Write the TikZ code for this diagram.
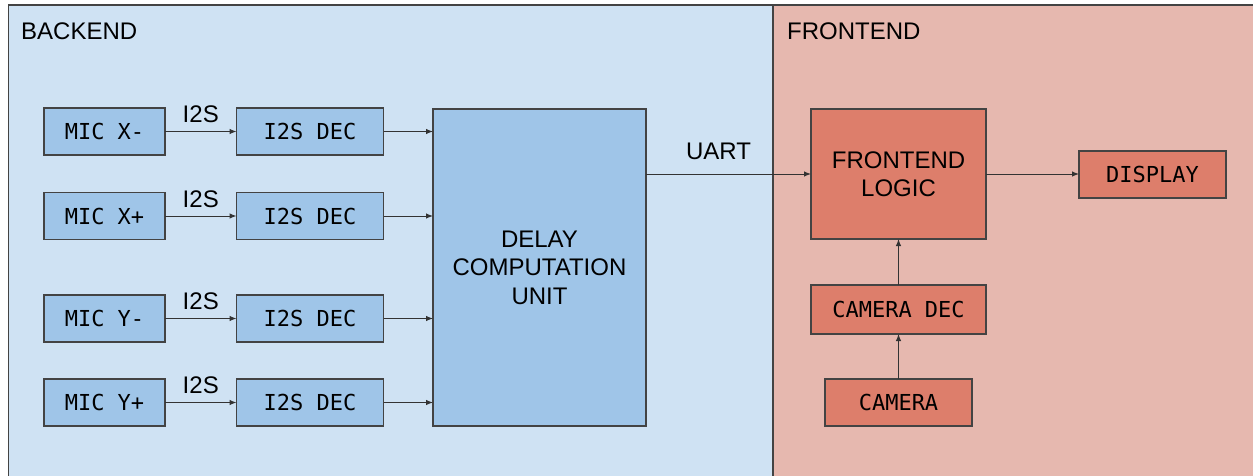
\documentclass[tikz,border=0pt]{standalone}
\usepackage{fontspec}
\setmainfont{Liberation Sans}
\newfontfamily\boxmono{DejaVu Sans Mono}
\usetikzlibrary{arrows.meta}

\definecolor{bepanel}{HTML}{CFE2F3}
\definecolor{bebox}{HTML}{9FC5E8}
\definecolor{fepanel}{HTML}{E6B8AF}
\definecolor{febox}{HTML}{DD7E6B}
\definecolor{edge}{HTML}{434343}
\definecolor{wire}{HTML}{333333}

\tikzset{
  panel/.style={draw=edge, line width=1.4pt},
  blk/.style={draw=edge, line width=1.2pt, inner sep=0pt, outer sep=0pt,
    font=\boxmono\fontsize{22}{26}\selectfont, align=center},
  beblk/.style={blk, fill=bebox},
  feblk/.style={blk, fill=febox},
  bigtext/.style={font=\fontsize{24}{28.5}\selectfont, align=center},
  wirearrow/.style={draw=wire, line width=1pt, -{Latex[length=7pt,width=5.5pt]}},
  lbl/.style={font=\fontsize{24}{28}\selectfont, inner sep=0pt},
  title/.style={font=\fontsize{24}{28}\selectfont, inner sep=0pt, anchor=base west}
}

\begin{document}
\begin{tikzpicture}[x=1pt, y=-1pt]
  \useasboundingbox (0,0) rectangle (1253,475);

  % panels
  \fill[white] (0,0) rectangle (1253,475);
  \draw[panel, fill=bepanel] (8.5,5) rectangle (773,482);
  \draw[panel, fill=fepanel] (773,5) rectangle (1262,482);
  \node[title] (betitle) at (21,39.5) {BACKEND};
  \node[title] (fetitle) at (787,39.5) {FRONTEND};

  % backend blocks
  \node[beblk, minimum width=121pt, minimum height=47pt] (micxm) at (104.5,131.5) {MIC X-};
  \node[beblk, minimum width=121pt, minimum height=47pt] (micxp) at (104.5,216) {MIC X+};
  \node[beblk, minimum width=121pt, minimum height=47pt] (micym) at (104.5,318.5) {MIC Y-};
  \node[beblk, minimum width=121pt, minimum height=47pt] (micyp) at (104.5,402.5) {MIC Y+};

  \node[beblk, minimum width=147pt, minimum height=47pt] (decxm) at (310,131.5) {I2S DEC};
  \node[beblk, minimum width=147pt, minimum height=47pt] (decxp) at (310,216) {I2S DEC};
  \node[beblk, minimum width=147pt, minimum height=47pt] (decym) at (310,318.5) {I2S DEC};
  \node[beblk, minimum width=147pt, minimum height=47pt] (decyp) at (310,402.5) {I2S DEC};

  \node[beblk, bigtext, minimum width=213pt, minimum height=317pt] (dcu) at (539.5,267.5)
    {DELAY\\COMPUTATION\\UNIT};

  % frontend blocks
  \node[feblk, bigtext, minimum width=175pt, minimum height=130pt] (logic) at (898.5,174)
    {FRONTEND\\LOGIC};
  \node[feblk, minimum width=147pt, minimum height=47pt] (display) at (1152.5,174.5) {DISPLAY};
  \node[feblk, minimum width=175pt, minimum height=49pt] (camdec) at (898.5,309.5) {CAMERA DEC};
  \node[feblk, minimum width=147pt, minimum height=47pt] (camera) at (898.5,402.5) {CAMERA};

  % microphone links
  \foreach \m/\d in {micxm/decxm, micxp/decxp, micym/decym, micyp/decyp}{
    \draw[wirearrow] (\m.east) -- node[lbl, midway, above=8pt] {I2S} (\d.west);
    \draw[wirearrow] (\d.east) -- (\d.east -| dcu.west);
  }

  % serial link to the frontend
  \draw[wirearrow] (dcu.east |- logic.west) -- node[lbl, pos=0.44, above=14pt] {UART} (logic.west);

  % frontend links
  \draw[wirearrow] (logic.east) -- (logic.east -| display.west);
  \draw[wirearrow] (camdec.north) -- (logic.south);
  \draw[wirearrow] (camera.north) -- (camdec.south);
\end{tikzpicture}
\end{document}
